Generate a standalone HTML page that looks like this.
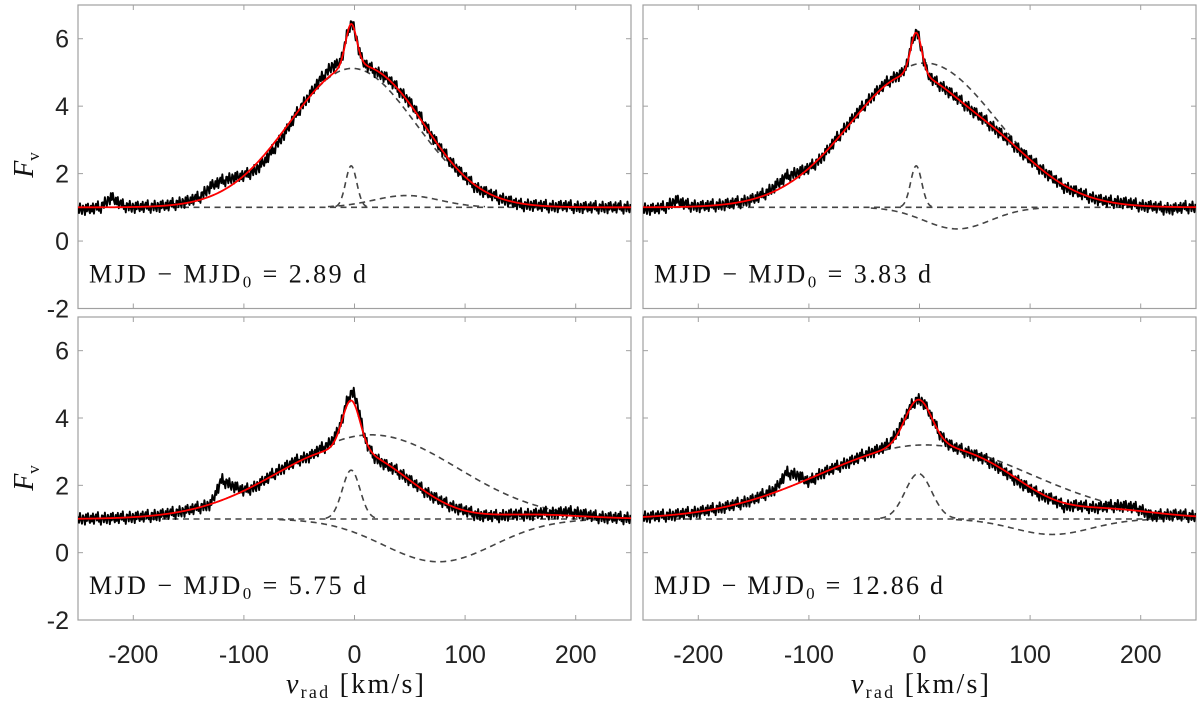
<!DOCTYPE html>
<html><head><meta charset="utf-8"><style>
html,body{margin:0;padding:0;background:#fff;}
svg{display:block;}
.serif{font-family:"Liberation Serif","DejaVu Serif",serif;}
.sans{font-family:"Liberation Sans",sans-serif;}
</style></head><body>
<svg id="chart" width="1200" height="705" viewBox="0 0 1200 705" xmlns="http://www.w3.org/2000/svg"></svg>
<script>
// ---- data ----
const panelLabels = ["2.89", "3.83", "5.75", "12.86"];
const xTicks = [-200, -100, 0, 100, 200];
const yTicks = [-2, 0, 2, 4, 6];
// Gaussian fit components per panel: [amplitude above continuum, center km/s, sigma km/s]
const broadComp = [[4.12, -2, 57], [4.28, 5, 65], [2.5, 15, 78], [2.2, 5, 95]];
const narrowComp = [[1.23, -3, 5], [1.23, -3, 5], [1.45, -3, 8], [1.35, -1, 12]];
const extraComp = [[0.35, 47, 30], [-0.64, 34, 30], [-1.27, 76, 50], [-0.46, 120, 35]];
// observed residuals from the fit at 10 km/s steps, -250..250
const residGrid = [-250,-240,-230,-220,-210,-200,-190,-180,-170,-160,-150,-140,-130,-120,-110,-100,-90,-80,-70,-60,-50,-40,-30,-20,-10,0,10,20,30,40,50,60,70,80,90,100,110,120,130,140,150,160,170,180,190,200,210,220,230,240,250];
const resid1 = [-0.05,-0.05,0,0.3,0.05,0,0,0,0,0.03,0.05,0.08,0.3,0.3,0.2,0,-0.15,-0.2,-0.15,-0.1,0,0.05,0.15,0.25,0,0,0,-0.05,0,0,0.05,0.05,0,0,0,0,-0.05,0,0,0,-0.05,0,0,0,0.03,0,0,0,0,0,0];
const resid2 = [-0.05,-0.05,0,0.2,0.05,0,0,0,0,0,0,0.05,0.15,0.25,0.15,0,-0.05,0,0.05,0.05,0.05,0.05,0.05,0.05,0,0,0,0,0,0,0,0,0,0,0,0,0,0,-0.05,0,0,0,0,0.05,0.05,0,0,-0.05,-0.05,0,0];
const resid3 = [0,0,0,0,0,0,0,0,0,0,0,0,0,0.6,0.3,0,-0.05,0,0.05,0.05,0.05,0,0.1,0.15,0,0.3,0,-0.05,-0.05,0,0,0,0,0,0,0,-0.05,-0.05,-0.05,0,0,0,0.05,0.05,0.1,0.1,0.05,0,0,0,0];
const resid4 = [0,0,0,0,0,0,0,0,0,0,0,0.05,0.1,0.45,0.25,-0.1,0,0,0,0,0.05,0.05,0.05,0.1,0,0,0,0,0,0,0,0,0,-0.05,-0.05,-0.05,-0.05,0,-0.1,0,0,0,0.05,0.1,0.1,0.05,-0.12,-0.05,0,0,0];
const residAll = [resid1, resid2, resid3, resid4];
const noisePattern = [0.07,-0.12,0.17,-0.04,-0.15,0.1,0.03,-0.18,0.13,-0.07,0.16,-0.03,-0.13,0.09,-0.09,0.15,-0.16,0.04,0.12,-0.06,0.19,-0.1,0.0,-0.19,0.09];

const NS = "http://www.w3.org/2000/svg";
const svg = document.getElementById("chart");
function mk(tag, attrs, parent) {
  const e = document.createElementNS(NS, tag);
  for (const k in attrs) e.setAttribute(k, attrs[k]);
  (parent || svg).appendChild(e);
  return e;
}
const panels = [
  {x0: 78, x1: 631, y0: 5, y1: 308.5},
  {x0: 643, x1: 1196, y0: 5, y1: 308.5},
  {x0: 78, x1: 631, y0: 317, y1: 620},
  {x0: 643, x1: 1196, y0: 317, y1: 620}
];
function gauss(c, v) { return c[0] * Math.exp(-Math.pow(v - c[1], 2) / (2 * c[2] * c[2])); }
function interp(arrX, arrY, v) {
  if (v <= arrX[0]) return arrY[0];
  for (let i = 1; i < arrX.length; i++) {
    if (v <= arrX[i]) { const t = (v - arrX[i-1]) / (arrX[i] - arrX[i-1]); return arrY[i-1] + t * (arrY[i] - arrY[i-1]); }
  }
  return arrY[arrY.length - 1];
}

panels.forEach((p, i) => {
  const g = mk("g", {});
  
  
  const xs = v => p.x0 + (v + 250) / 500 * (p.x1 - p.x0);
  const ys = f => p.y1 - (f + 2) / 9 * (p.y1 - p.y0);
  const fr = mk("rect", {x: p.x0, y: p.y0, width: p.x1 - p.x0, height: p.y1 - p.y0, fill: "none", stroke: "#a0a0a0", "stroke-width": 1.2}, g);
  
  
  xTicks.forEach(t => {
    mk("line", {x1: xs(t), x2: xs(t), y1: p.y1, y2: p.y1 - 5, stroke: "#a0a0a0", "stroke-width": 1}, g);
    mk("line", {x1: xs(t), x2: xs(t), y1: p.y0, y2: p.y0 + 5, stroke: "#a0a0a0", "stroke-width": 1}, g);
    if (i >= 2) {
      const tl = mk("text", {x: xs(t), y: 663, "text-anchor": "middle", "class": "sans", "font-size": 25, fill: "#222"}, svg);
      tl.textContent = t;
      
      
    }
  });
  yTicks.forEach(t => {
    mk("line", {x1: p.x0, x2: p.x0 + 5, y1: ys(t), y2: ys(t), stroke: "#a0a0a0", "stroke-width": 1}, g);
    mk("line", {x1: p.x1, x2: p.x1 - 5, y1: ys(t), y2: ys(t), stroke: "#a0a0a0", "stroke-width": 1}, g);
    if (i % 2 === 0) {
      const tl = mk("text", {x: p.x0 - 9, y: ys(t) + 9, "text-anchor": "end", "class": "sans", "font-size": 25, fill: "#222"}, svg);
      tl.textContent = t;
      
      
    }
  });
  const bc = broadComp[i], nc = narrowComp[i], ec = extraComp[i], res = residAll[i];
  const clipId = "clip" + i;
  const cp = mk("clipPath", {id: clipId}, g);
  mk("rect", {x: p.x0, y: p.y0, width: p.x1 - p.x0, height: p.y1 - p.y0}, cp);
  const cg = mk("g", {"clip-path": "url(#" + clipId + ")"}, g);
  const dash = {fill: "none", stroke: "#444", "stroke-width": 1.6, "stroke-dasharray": "6 4.5"};
  const pts = (fn, step, thr) => {
    let s = "", on = false;
    for (let v = -250; v <= 250.001; v += step) {
      const f = fn(v);
      if (thr !== undefined && Math.abs(f - 1) < thr) { on = false; continue; }
      s += (on ? "L" : "M") + xs(v).toFixed(2) + "," + ys(f).toFixed(2); on = true;
    }
    return s;
  };
  const base = mk("path", Object.assign({d: pts(v => 1, 5)}, dash), cg);
  
  
  const broadP = mk("path", Object.assign({d: pts(v => 1 + gauss(bc, v), 1, 0.02)}, dash), cg);
  
  
  const narrowP = mk("path", Object.assign({d: pts(v => 1 + gauss(nc, v), 0.5, 0.02)}, dash), cg);
  
  
  const extraP = mk("path", Object.assign({d: pts(v => 1 + gauss(ec, v), 1, 0.02)}, dash), cg);
  
  
  const fit = v => 1 + gauss(bc, v) + gauss(nc, v) + gauss(ec, v);
  let k = 0;
  const obsFn = v => { const n = noisePattern[(k++) % noisePattern.length]; return fit(v) + interp(residGrid, res, v) + n; };
  const obs = mk("path", {d: pts(obsFn, 0.9), fill: "none", stroke: "#000", "stroke-width": 1.9, "stroke-linejoin": "round"}, cg);
  
  
  const fitP = mk("path", {d: pts(fit, 0.5), fill: "none", stroke: "#ff0000", "stroke-width": 1.8}, cg);
  
  
  const lab = mk("text", {x: p.x0 + 11, y: p.y1 - 26, "class": "serif", "font-size": 26, fill: "#111", textLength: (i === 3 ? 289 : 277), lengthAdjust: "spacing"}, g);
  lab.innerHTML = 'MJD − MJD<tspan font-size="17" dy="5">0</tspan><tspan dy="-5"> = ' + panelLabels[i] + ' d</tspan>';
  
  
});
[165, 478].forEach(yy => {
  const t = mk("text", {x: 0, y: 0, transform: "translate(33," + yy + ") rotate(-90)", "text-anchor": "middle", "class": "serif", "font-style": "italic", "font-size": 28, fill: "#111"});
  t.innerHTML = 'F<tspan font-style="normal" font-size="17" dy="6">v</tspan>';
  
  
});
[354, 919].forEach(xx => {
  const t = mk("text", {x: xx - 68, y: 693, "class": "serif", "font-size": 28, fill: "#111", textLength: 138, lengthAdjust: "spacing"});
  t.innerHTML = '<tspan font-style="italic">v</tspan><tspan font-size="18" dy="5">rad</tspan><tspan dy="-5"> [km/s]</tspan>';
  
  
});
</script>
</body></html>
